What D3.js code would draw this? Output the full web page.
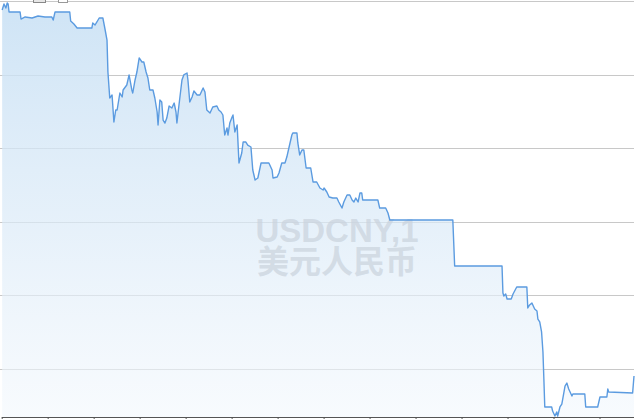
<!DOCTYPE html>
<html><head><meta charset="utf-8">
<script src="https://cdn.jsdelivr.net/npm/d3@7"></script>
<style>html,body{margin:0;padding:0;background:#fff;overflow:hidden}svg{display:block}</style>
</head><body>
<svg id="c" width="640" height="419"></svg>
<script>
// x: time units (ticks every 10), y: USD/CNY rate
const tickValues = [0,10,20,30,40,50,60,70,80,90,100,110,120,130];
const gridRates = [7.0,6.9,6.8,6.7,6.6,6.5];
const watermark = ["USDCNY,1","美元人民币"];
const t = [0.1,0.5,0.9,1.2,1.4,1.6,4.0,4.2,5.1,6.6,7.9,9.4,10.9,11.2,11.6,14.8,15.0,15.7,16.4,19.6,19.8,20.3,20.7,21.2,22.0,22.5,22.9,23.1,23.5,24.0,24.4,24.8,25.1,25.7,26.2,26.4,27.2,27.7,28.3,28.5,29.0,29.4,29.9,30.5,30.9,31.4,31.8,32.2,32.9,33.3,33.8,34.0,34.4,34.8,35.1,35.5,35.9,36.4,37.0,37.5,37.9,38.1,38.5,39.2,39.6,40.3,40.5,40.9,41.4,41.8,42.5,43.1,43.8,44.2,44.6,45.3,45.9,46.8,47.2,47.7,48.1,48.5,49.0,49.2,49.6,50.1,50.3,50.7,51.2,51.6,52.2,52.5,53.1,53.5,54.2,54.6,55.1,55.7,56.4,57.5,58.1,58.8,59.0,59.9,60.3,60.9,61.6,62.0,62.5,63.1,63.3,64.2,64.4,64.8,65.3,65.7,66.2,67.2,67.7,68.5,69.2,69.9,70.1,70.7,71.2,72.0,72.9,73.3,74.0,74.4,75.1,75.7,76.2,76.6,77.0,77.5,77.9,78.3,78.5,81.8,82.2,83.5,84.0,84.4,98.1,98.5,108.8,109.0,109.2,109.6,109.9,110.8,111.2,112.0,114.2,114.4,114.8,115.3,115.9,116.4,116.6,117.0,117.4,117.7,117.9,118.1,119.6,119.8,120.3,120.7,120.9,121.4,121.8,122.0,122.5,122.9,123.3,124.0,124.2,126.8,127.0,129.6,130.1,131.6,131.8,132.0,137.2,137.5];
const rate = [6.9878,6.9959,6.9905,6.9973,6.9959,6.9851,6.9851,6.9755,6.9783,6.9769,6.9796,6.9783,6.9783,6.9742,6.9851,6.9851,6.9728,6.9687,6.9633,6.9633,6.9701,6.9674,6.9715,6.9769,6.9769,6.9606,6.9470,6.9035,6.8682,6.8723,6.8356,6.8519,6.8519,6.8750,6.8696,6.8791,6.8859,6.8995,6.8791,6.8750,6.8927,6.9035,6.9226,6.9171,6.9171,6.9035,6.8954,6.8791,6.8791,6.8682,6.8492,6.8315,6.8655,6.8628,6.8383,6.8342,6.8410,6.8573,6.8546,6.8614,6.8492,6.8342,6.8560,6.8927,6.8995,6.9022,6.8927,6.8628,6.8696,6.8777,6.8723,6.8723,6.8818,6.8764,6.8519,6.8478,6.8560,6.8573,6.8519,6.8492,6.8451,6.8179,6.8274,6.8179,6.8342,6.8424,6.8451,6.8220,6.8315,6.7799,6.7935,6.8084,6.8084,6.8043,6.8016,6.7704,6.7568,6.7595,6.7799,6.7799,6.7799,6.7704,6.7595,6.7609,6.7663,6.7799,6.7799,6.7880,6.8016,6.8179,6.8207,6.8207,6.8071,6.7908,6.7976,6.7976,6.7731,6.7731,6.7541,6.7541,6.7459,6.7432,6.7459,6.7405,6.7337,6.7323,6.7323,6.7269,6.7187,6.7269,6.7364,6.7364,6.7296,6.7269,6.7323,6.7269,6.7391,6.7391,6.7296,6.7296,6.7187,6.7187,6.7120,6.7024,6.7024,6.6399,6.6399,6.6033,6.5992,6.6019,6.5951,6.5951,6.6019,6.6114,6.6114,6.5829,6.5870,6.5897,6.5815,6.5788,6.5679,6.5639,6.5503,6.5231,6.4864,6.4484,6.4484,6.4429,6.4361,6.4416,6.4361,6.4484,6.4524,6.4592,6.4769,6.4810,6.4728,6.4633,6.4660,6.4660,6.4484,6.4484,6.4620,6.4620,6.4728,6.4688,6.4674,6.4905];

const svg = d3.select("#c");
const x = d3.scaleLinear().domain([0,137.5]).range([1.7,634]);
const y = d3.scaleLinear().domain([6.4348,7.0]).range([417,1]);
const data = t.map((d,i)=>({t:d,r:rate[i]}));

const defs = svg.append("defs");
const g = defs.append("linearGradient").attr("id","fillg")
  .attr("gradientUnits","userSpaceOnUse").attr("x1",0).attr("y1",0).attr("x2",0).attr("y2",417);
g.append("stop").attr("offset",0).attr("stop-color","#c6dff4").attr("stop-opacity",0.85);
g.append("stop").attr("offset",0.55).attr("stop-color","#dcebf8").attr("stop-opacity",0.7);
g.append("stop").attr("offset",1).attr("stop-color","#f3f8fd").attr("stop-opacity",0.6);

// gridlines
svg.append("g").selectAll("line").data(gridRates).join("line")
  .attr("x1",0).attr("x2",634).attr("y1",d=>Math.round(y(d))+0.5).attr("y2",d=>Math.round(y(d))+0.5)
  .attr("stroke","#c8c8c8").attr("stroke-width",1);

// area
const area = d3.area().x(d=>x(d.t)).y0(417).y1(d=>y(d.r));
svg.append("path").datum(data).attr("d",area).attr("fill","url(#fillg)");

// watermark (two-line label)
const wm = svg.append("text").attr("text-anchor","middle").attr("font-weight","bold")
  .attr("fill","#c9d2dc").attr("fill-opacity",0.7);
wm.append("tspan").attr("x",337).attr("y",242)
  .attr("font-family","Liberation Sans, Arial, sans-serif").attr("font-size",33).text(watermark[0]);
wm.append("tspan").attr("x",337).attr("y",273)
  .attr("font-family","Noto Sans CJK SC, sans-serif").attr("font-size",32).text(watermark[1]);

// line
const line = d3.line().x(d=>x(d.t)).y(d=>y(d.r));
svg.append("path").datum(data).attr("d",line).attr("fill","none")
  .attr("stroke","#5b9be0").attr("stroke-width",1.4).attr("stroke-linejoin","round");

// x axis
const ax = svg.append("g").attr("transform","translate(0,417.5)")
  .call(d3.axisBottom(x).tickValues(tickValues).tickSize(4).tickFormat(""));
ax.select(".domain").attr("stroke","#555").attr("d","M1.7,0H634");
ax.selectAll(".tick line").attr("stroke","#555");

// top-left clipped controls
svg.append("rect").attr("x",33.5).attr("y",-3).attr("width",12).attr("height",5.5)
  .attr("fill","#e6e6e6").attr("stroke","#888");
svg.append("rect").attr("x",58.5).attr("y",-3).attr("width",9).attr("height",5.5)
  .attr("fill","#fff").attr("stroke","#999");
</script>
</body></html>
